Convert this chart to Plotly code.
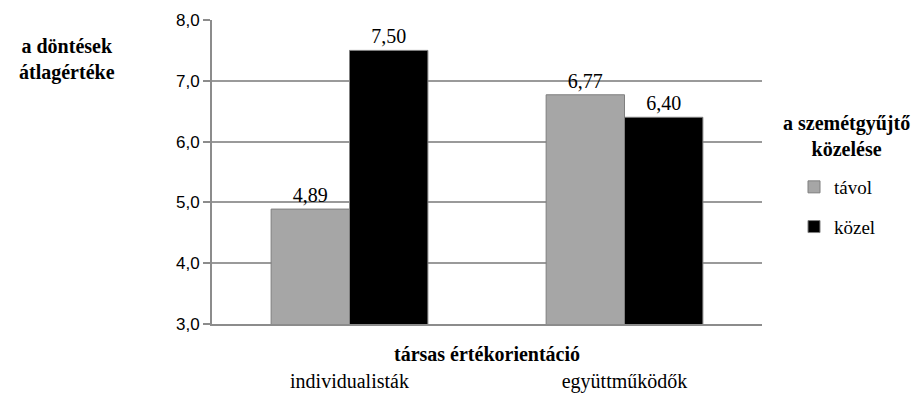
import plotly.graph_objects as go

categories = ["individualisták", "együttműködők"]
series_names = ["távol", "közel"]
tavol_values = [4.89, 6.77]
kozel_values = [7.50, 6.40]
y_ticks = [3.0, 4.0, 5.0, 6.0, 7.0, 8.0]
y_tick_labels = ["3,0", "4,0", "5,0", "6,0", "7,0", "8,0"]

SERIF = "'Liberation Serif', 'Times New Roman', serif"
SANS = "'Liberation Sans', Arial, sans-serif"

fig = go.Figure()
fig.add_trace(go.Bar(
    x=categories, y=tavol_values, name=series_names[0],
    marker=dict(color="#a6a6a6", line=dict(color="#7f7f7f", width=1)),
    texttemplate="%{y:.2f}", textposition="outside",
    textfont=dict(family=SERIF, size=20, color="black"),
    legendgroup="a", cliponaxis=False,
))
fig.add_trace(go.Bar(
    x=categories, y=kozel_values, name=series_names[1],
    marker=dict(color="#000000", line=dict(color="#7f7f7f", width=1)),
    texttemplate="%{y:.2f}", textposition="outside",
    textfont=dict(family=SERIF, size=20, color="black"),
    legendgroup="b", cliponaxis=False,
))

# page body has an 8px default margin, so the figure is offset by 8px
PW, PH = 550, 304
fig.update_layout(
    width=923, height=400,
    margin=dict(l=204, r=169, t=12, b=84, autoexpand=False),
    plot_bgcolor="white", paper_bgcolor="white",
    font=dict(family=SERIF),
    separators=",.",
    barmode="group", bargap=0.43, bargroupgap=0,
    showlegend=True,
    legend=dict(
        x=(794 - 212) / PW, xref="paper", y=(324 - 168) / PH, yanchor="top",
        font=dict(family=SERIF, size=19, color="black"),
        tracegroupgap=12, traceorder="grouped",
        bgcolor="rgba(0,0,0,0)",
    ),
    xaxis=dict(
        showline=True, linecolor="#8c8c8c", linewidth=2,
        ticks="", showgrid=False,
        tickfont=dict(family=SERIF, size=20, color="black"),
        ticklabelstandoff=38,
    ),
    yaxis=dict(
        range=[3, 8], tickvals=y_ticks, ticktext=y_tick_labels,
        showline=True, linecolor="#8c8c8c", linewidth=2,
        ticks="outside", ticklen=7, tickcolor="#8c8c8c", tickwidth=2,
        showgrid=True, gridcolor="#9a9a9a", gridwidth=1.5,
        tickfont=dict(family=SANS, size=17, color="black"),
        zeroline=False,
    ),
    annotations=[
        dict(text="<b>a döntések<br>átlagértéke</b>", xref="paper", yref="paper",
             x=(67 - 212) / PW, y=(324 - 60) / PH, xanchor="center", yanchor="middle",
             showarrow=False, font=dict(family=SERIF, size=20, color="black")),
        dict(text="<b>társas értékorientáció</b>", xref="paper", yref="paper",
             x=0.5, y=(324 - 354) / PH, xanchor="center", yanchor="middle",
             showarrow=False, font=dict(family=SERIF, size=20, color="black")),
        dict(text="<b>a szemétgyűjtő<br>közelése</b>", xref="paper", yref="paper",
             x=(846 - 212) / PW, y=(324 - 136) / PH, xanchor="center", yanchor="middle",
             showarrow=False, font=dict(family=SERIF, size=20, color="black")),
    ],
)

fig.write_html("out.html")
